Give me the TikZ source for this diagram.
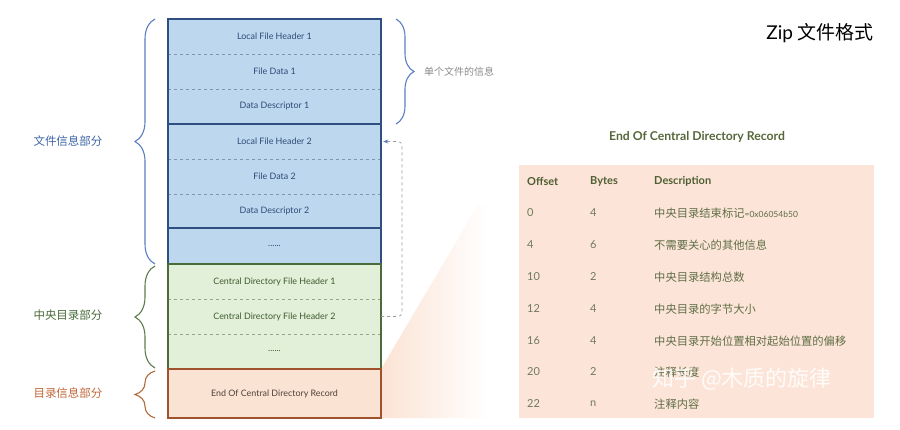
\documentclass[tikz,border=0pt]{standalone}
\usepackage{fontspec}
\setmainfont{Lato}
\newfontfamily\cjk{Noto Sans CJK SC}
\usetikzlibrary{decorations.pathreplacing,arrows.meta}
\definecolor{bluefill}{HTML}{BDD7EE}
\definecolor{blueline}{HTML}{2F4F80}
\definecolor{bluetext}{HTML}{2F4A78}
\definecolor{bluebrace}{HTML}{5B7FC0}
\definecolor{bluelabel}{HTML}{3E66A6}
\definecolor{greenfill}{HTML}{E2F0D9}
\definecolor{greenline}{HTML}{4A6B3A}
\definecolor{greentext}{HTML}{3E5A2E}
\definecolor{greenbrace}{HTML}{5E7C4C}
\definecolor{orangefill}{HTML}{FBE3D4}
\definecolor{orangeline}{HTML}{A0522D}
\definecolor{orangetext}{HTML}{4F4038}
\definecolor{orangebrace}{HTML}{B06A3A}
\definecolor{orangelabel}{HTML}{C0673A}
\definecolor{tablebg}{HTML}{FCE5D8}
\definecolor{tabhead}{HTML}{4F5E33}
\definecolor{tabtext}{HTML}{5F6E45}
\definecolor{tabnum}{HTML}{6E7A5C}
\definecolor{eotitle}{HTML}{56683A}
\tikzset{
  row/.style={rectangle, minimum width=213pt, minimum height=35pt, inner sep=0pt, font=\fontsize{8.9}{10}\selectfont},
  bluerow/.style={row, fill=bluefill, text=bluetext},
  greenrow/.style={row, fill=greenfill, text=greentext},
  orangerow/.style={row, fill=orangefill, text=orangetext},
  sepblue/.style={draw=blueline!60, dashed, line width=0.5pt},
  sepgreen/.style={draw=greenline!60, dashed, line width=0.5pt},
  outline/.style={line width=1.8pt},
  bracepath/.style={decorate, decoration={brace, amplitude=20pt}, line width=1.1pt},
  sidelabel/.style={anchor=center, font=\cjk\fontsize{11.5}{13}\selectfont},
  cell/.style={anchor=west, inner sep=0pt, text=tabnum, font=\fontsize{11}{13}\selectfont},
  headcell/.style={anchor=west, inner sep=0pt, text=tabhead, font=\bfseries\fontsize{11}{13}\selectfont},
  desc/.style={anchor=west, inner sep=0pt, text=tabtext, font=\cjk\fontsize{11.3}{13}\selectfont},
  backlink/.style={draw=gray!80, dashed, line width=0.6pt, rounded corners=4pt, -{Stealth[length=5pt,width=4pt,color=bluebrace]}}
}
\begin{document}
\begin{tikzpicture}[x=1pt,y=1pt]
\useasboundingbox (0,0) rectangle (900,-429);
\fill[white] (0,0) rectangle (900,-429);

% zoom fan shading
\shade[left color=orangefill, right color=white]
  (381,-369) -- (478,-205) -- (488,-205) -- (488,-418) -- (381,-418) -- cycle;

% blue rows
\node[bluerow] (l1) at (274.5,-36.5) {Local File Header 1};
\node[bluerow] (d1) at (274.5,-71.5) {File Data 1};
\node[bluerow] (s1) at (274.5,-106.5) {Data Descriptor 1};
\node[bluerow] (l2) at (274.5,-141.5) {Local File Header 2};
\node[bluerow] (d2) at (274.5,-176.5) {File Data 2};
\node[bluerow, minimum height=34pt] (s2) at (274.5,-211) {Data Descriptor 2};
\node[bluerow, minimum height=36pt] (bm) at (274.5,-246) {......};
% green rows
\node[greenrow] (c1) at (274.5,-281.5) {Central Directory File Header 1};
\node[greenrow] (c2) at (274.5,-316.5) {Central Directory File Header 2};
\node[greenrow] (cm) at (274.5,-351.5) {......};
% orange row
\node[orangerow, minimum height=49pt] (eo) at (274.5,-393.5) {End Of Central Directory Record};

% dashed separators
\draw[sepblue] (l1.south west) -- (l1.south east);
\draw[sepblue] (d1.south west) -- (d1.south east);
\draw[sepblue] (l2.south west) -- (l2.south east);
\draw[sepblue] (d2.south west) -- (d2.south east);
\draw[sepgreen] (c1.south west) -- (c1.south east);
\draw[sepgreen] (c2.south west) -- (c2.south east);

% outlines
\draw[outline, draw=blueline] (l1.north west) rectangle (s1.south east);
\draw[outline, draw=blueline] (l2.north west) rectangle (s2.south east);
\draw[outline, draw=blueline] (bm.north west) rectangle (bm.south east);
\draw[outline, draw=greenline] (c1.north west) rectangle (cm.south east);
\draw[outline, draw=orangeline] (eo.north west) rectangle (eo.south east);

% braces
\coordinate (bb) at (155,-264);
\coordinate (bt) at (155,-19);
\coordinate (gb) at (155,-368);
\coordinate (gt) at (155,-266);
\coordinate (ob) at (155,-418);
\coordinate (ot) at (155,-371);
\coordinate (rt) at (396,-19);
\coordinate (rb) at (396,-124);
\draw[bracepath, draw=bluebrace] (bb) -- (bt);
\draw[bracepath, draw=greenbrace] (gb) -- (gt);
\draw[bracepath, draw=orangebrace] (ob) -- (ot);
\draw[bracepath, draw=bluebrace, decoration={brace, amplitude=18pt}] (rt) -- (rb);

% side labels
\node[sidelabel, text=bluelabel] (lab1) at (68,-141) {文件信息部分};
\node[sidelabel, text=greenline] (lab2) at (68,-315) {中央目录部分};
\node[sidelabel, text=orangelabel] (lab3) at (68,-393) {目录信息部分};
\node[anchor=west, inner sep=0pt, text=gray!90, font=\cjk\fontsize{10}{12}\selectfont] (lab4) at (424,-72) {单个文件的信息};

% back link
\coordinate (bend) at (402,-316.5);
\draw[backlink] (c2.east) -- (bend) |- ([xshift=2pt]l2.east);

% title
\node[anchor=east, inner sep=0pt, font=\fontsize{19}{22}\selectfont] (title) at (874,-33) {Zip {\cjk 文件格式}};

% table
\node[anchor=center, inner sep=0pt, text=eotitle, font=\bfseries\fontsize{12.2}{14}\selectfont] (ttl) at (697,-137) {End Of Central Directory Record};
\node[rectangle, fill=tablebg, minimum width=355pt, minimum height=253pt, inner sep=0pt] (tbl) at (696.5,-291.5) {};

\node[headcell] (h1) at (527,-181) {Offset};
\node[headcell] (h2) at (590,-181) {Bytes};
\node[headcell] (h3) at (654,-181) {Description};

\node[cell] (o1) at (527,-213) {0};
\node[cell] (b1) at (590,-213) {4};
\node[desc] (e1) at (654,-213) {中央目录结束标记{\rmfamily\fontsize{8.5}{10}\selectfont =0x06054b50}};

\node[cell] (o2) at (527,-245) {4};
\node[cell] (b2) at (590,-245) {6};
\node[desc] (e2) at (654,-245) {不需要关心的其他信息};

\node[cell] (o3) at (527,-277) {10};
\node[cell] (b3) at (590,-277) {2};
\node[desc] (e3) at (654,-277) {中央目录结构总数};

\node[cell] (o4) at (527,-309) {12};
\node[cell] (b4) at (590,-309) {4};
\node[desc] (e4) at (654,-309) {中央目录的字节大小};

\node[cell] (o5) at (527,-341) {16};
\node[cell] (b5) at (590,-341) {4};
\node[desc] (e5) at (654,-341) {中央目录开始位置相对起始位置的偏移};

\node[cell] (o6) at (527,-372) {20};
\node[cell] (b6) at (590,-372) {2};
\node[desc] (e6) at (654,-372) {注释长度};

\node[cell] (o7) at (527,-404) {22};
\node[cell] (b7) at (590,-404) {n};
\node[desc] (e7) at (654,-404) {注释内容};

% watermark
\node[anchor=west, inner sep=0pt, text=white, opacity=0.85, font=\cjk\fontsize{22}{24}\selectfont] (wm) at (652,-379) {知乎 @木质的旋律};
\end{tikzpicture}
\end{document}
